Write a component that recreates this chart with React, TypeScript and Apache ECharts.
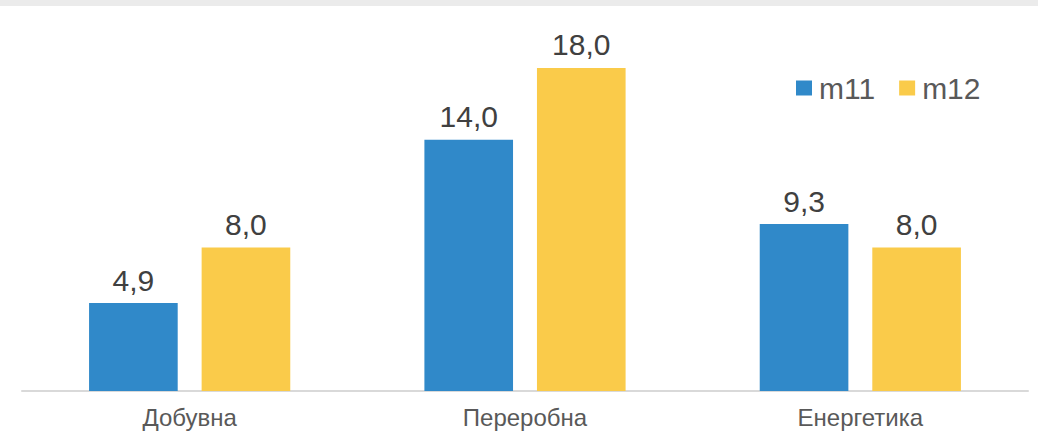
import React, { useEffect, useRef } from "react";
import * as echarts from "echarts";

const categories = ["Добувна", "Переробна", "Енергетика"];
const seriesNames = ["m11", "m12"];
const m11Values = [4.9, 14.0, 9.3];
const m12Values = [8.0, 18.0, 8.0];
const colors = ["#3089C9", "#FACB4A"];

export default function App() {
  const ref = useRef<HTMLDivElement>(null);
  useEffect(() => {
    if (!ref.current) return;
    const chart = echarts.init(ref.current, null, { renderer: "svg" });
    const font = "'Liberation Sans', Arial, sans-serif";
    const label = {
      show: true,
      position: "top",
      distance: 8,
      fontSize: 30,
      color: "#404040",
      fontFamily: font,
      formatter: (p: any) => p.value.toFixed(1).replace(".", ","),
    };
    chart.setOption({
      animation: false,
      backgroundColor: "#ffffff",
      graphic: [
        {
          type: "rect",
          left: 0,
          top: 0,
          shape: { width: 1038, height: 6 },
          style: { fill: "#ebebeb" },
        },
      ],
      legend: {
        data: seriesNames,
        left: 796,
        top: 73,
        padding: 0,
        icon: "rect",
        itemWidth: 16,
        itemHeight: 15,
        itemGap: 24,
        textStyle: {
          fontSize: 30,
          color: "#595959",
          fontFamily: font,
          padding: [0, 0, 0, 2],
        },
      },
      grid: { left: 22, right: 10, top: 32, bottom: 41, containLabel: false },
      xAxis: {
        type: "category",
        data: categories,
        axisLine: { show: true, lineStyle: { color: "#d9d9d9", width: 2 } },
        axisTick: { show: false },
        axisLabel: {
          fontSize: 24,
          color: "#595959",
          fontFamily: font,
          margin: 14,
        },
      },
      yAxis: {
        type: "value",
        min: 0,
        max: 20,
        show: false,
        splitLine: { show: false },
      },
      series: [
        {
          name: seriesNames[0],
          type: "bar",
          data: m11Values,
          itemStyle: { color: colors[0] },
          barGap: "27%",
          barCategoryGap: "40%",
          label,
        },
        {
          name: seriesNames[1],
          type: "bar",
          data: m12Values,
          itemStyle: { color: colors[1] },
          barGap: "27%",
          barCategoryGap: "40%",
          label,
        },
      ],
    });
    return () => chart.dispose();
  }, []);
  return (
    <div
      ref={ref}
      style={{ position: "fixed", left: 0, top: 0, width: 1038, height: 432 }}
    />
  );
}
